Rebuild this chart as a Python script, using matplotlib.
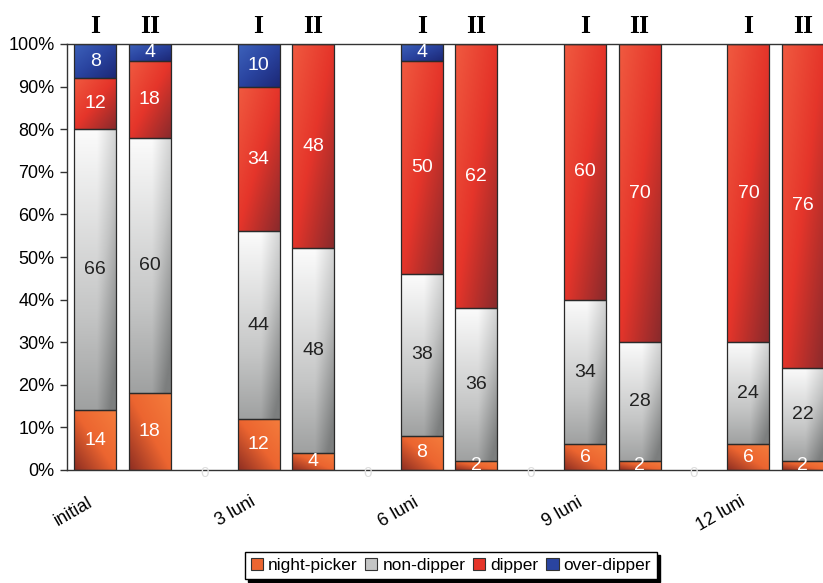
import numpy as np
import matplotlib.pyplot as plt
from matplotlib.colors import LinearSegmentedColormap
from matplotlib.patches import Patch

# date: procente pe categorii, grupul I si II la fiecare moment
momente = ['initial', '3 luni', '6 luni', '9 luni', '12 luni']
grupuri = ['I', 'II']
night_picker = [14, 18, 12, 4, 8, 2, 6, 2, 6, 2]
non_dipper = [66, 60, 44, 48, 38, 36, 34, 28, 24, 22]
dipper = [12, 18, 34, 48, 50, 62, 60, 70, 70, 76]
over_dipper = [8, 4, 10, 0, 4, 0, 0, 0, 0, 0]

serii = [
    ('night-picker', night_picker, ['#f47c3c', '#ec6530', '#8e2e22'], 'white'),
    ('non-dipper', non_dipper, ['#fbfbfb', '#c4c5c5', '#7c7e7e'], '#222222'),
    ('dipper', dipper, ['#f05a40', '#e5352a', '#8a2a2c'], 'white'),
    ('over-dipper', over_dipper, ['#3d62bb', '#2a44a0', '#1c2876'], 'white'),
]

plt.rcParams['font.family'] = ['Liberation Sans', 'DejaVu Sans']

fig = plt.figure(figsize=(8.23, 5.83), dpi=100)
ax = fig.add_axes([67 / 823, 1 - 470 / 583, 1 - 67 / 823, (470 - 44) / 583])

# pozitiile barelor: I, II si un loc gol intre momente
poz = []
for g in range(len(momente)):
    poz += [3 * g, 3 * g + 1]
poz = np.array(poz)
latime = 0.77


def gradient(ax, bar, cmap, nume):
    x0, y0 = bar.get_x(), bar.get_y()
    w, h = bar.get_width(), bar.get_height()
    u = np.linspace(0, 1, 40)
    v = np.linspace(1, 0, 80)
    U, V = np.meshgrid(u, v)
    if nume == 'night-picker':
        T = 0.5 * (1 - U) + 0.5 * (1 - V)
    elif nume == 'non-dipper':
        T = 0.75 * (1 - V) + 0.35 * np.clip((U - 0.55) / 0.45, 0, 1)
    else:
        T = 0.5 * U + 0.5 * (1 - V)
    ax.imshow(np.clip(T, 0, 1), cmap=cmap, vmin=0, vmax=1,
              extent=[x0, x0 + w, y0, y0 + h], aspect='auto',
              origin='upper', zorder=0.5, interpolation='bilinear')


baza = np.zeros(len(poz))
handles = []
for nume, valori, culori, col_text in serii:
    valori = np.array(valori)
    cmap = LinearSegmentedColormap.from_list(nume, culori)
    bare = ax.bar(poz, valori, latime, bottom=baza, facecolor='none',
                  edgecolor='#2a2a2a', linewidth=0.9, zorder=1)
    for bar, val in zip(bare, valori):
        if val <= 0:
            continue
        gradient(ax, bar, cmap, nume)
        ax.text(bar.get_x() + bar.get_width() / 2, bar.get_y() + val / 2,
                str(val), ha='center', va='center', fontsize=14,
                color=col_text, zorder=3, clip_on=True)
    baza = baza + valori
    handles.append(Patch(facecolor=culori[1], edgecolor='#333333',
                         linewidth=0.8, label=nume))

# etichete "0" pentru locurile goale
for g in range(len(momente) - 1):
    ax.text(3 * g + 2, -0.8, '0', ha='center', va='center', fontsize=11,
            color='#dddddd', clip_on=False)

# I / II deasupra barelor
for i, p in enumerate(poz):
    ax.text(p, 104.2, grupuri[i % 2], ha='center', va='center',
            fontsize=18.5, fontweight='bold', family='Liberation Serif',
            clip_on=False)

ax.set_xlim(-0.52, 13.37)
ax.set_ylim(0, 100)
ax.set_yticks(range(0, 101, 10))
ax.set_yticklabels([f'{v}%' for v in range(0, 101, 10)], fontsize=13)
ax.set_xticks(poz[::2])
ax.set_xticklabels(momente, rotation=30, ha='right', fontsize=13)
ax.tick_params(axis='x', length=0, pad=17)
ax.tick_params(axis='y', length=5, width=1, color='#333333', pad=4)
for s in ['left', 'bottom', 'top']:
    ax.spines[s].set_color('#333333')
    ax.spines[s].set_linewidth(1)
ax.spines['right'].set_visible(False)

fig.legend(handles=handles, loc='upper center', ncol=4,
           bbox_to_anchor=(451 / 823, 1 - 552 / 583), fontsize=12.4,
           frameon=True, fancybox=False, edgecolor='black',
           handlelength=0.7, handleheight=0.7, handletextpad=0.3,
           columnspacing=0.45, borderpad=0.35, borderaxespad=0,
           shadow={'color': 'black', 'alpha': 1})

fig.savefig('out.png', dpi=100)
